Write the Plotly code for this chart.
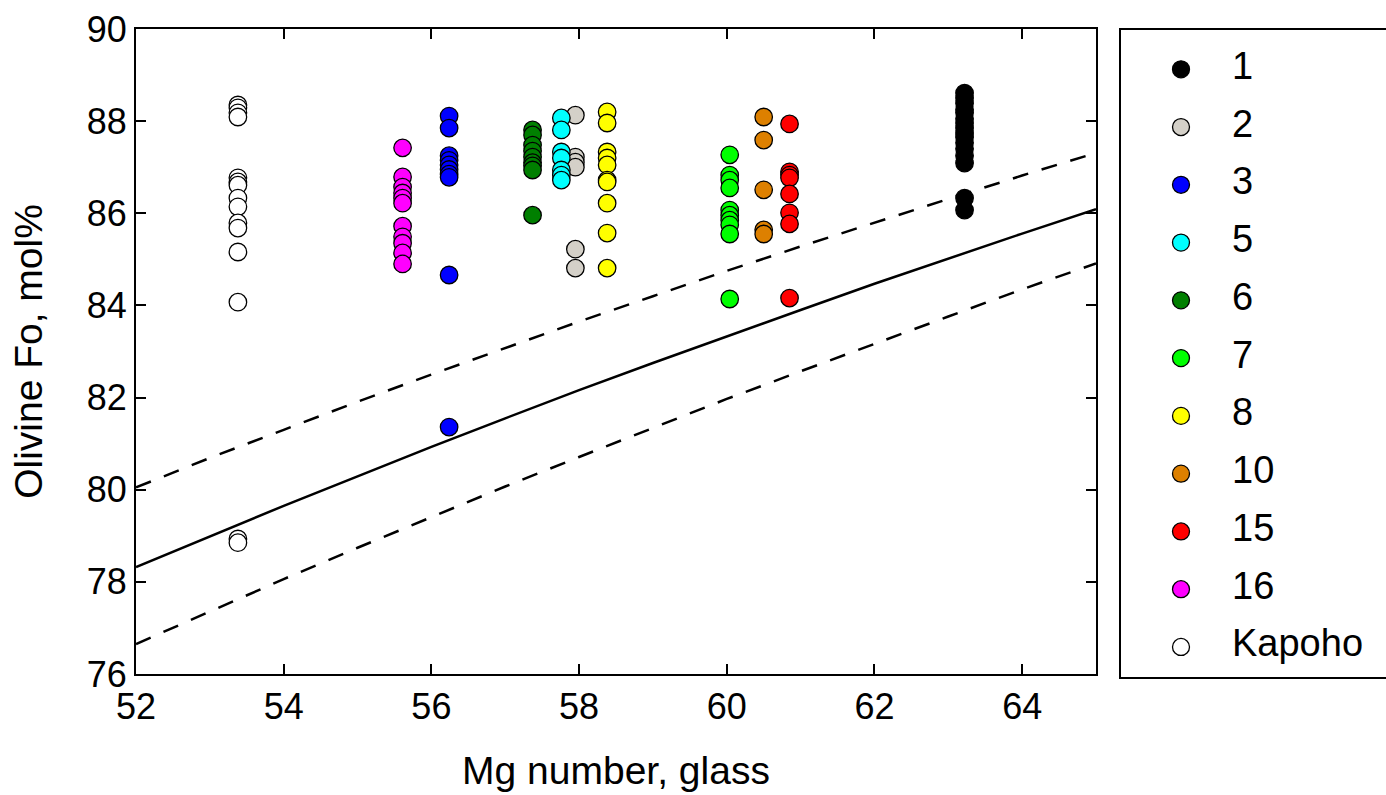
import plotly.graph_objects as go

# ---------------- data ----------------
groups = ["1", "2", "3", "5", "6", "7", "8", "10", "15", "16", "Kapoho"]
colors = ["#000000", "#D4D0C8", "#0000FF", "#00FFFF", "#007F00", "#00FF00",
          "#FFFF00", "#DD8000", "#FF0000", "#FF00FF", "#FFFFFF"]

mg_1 = 63.22
fo_1 = [88.61, 88.50, 88.39, 88.25, 88.18, 88.05, 87.96, 87.85, 87.74, 87.65,
        87.53, 87.40, 87.25, 87.09, 86.33, 86.07]
mg_2 = 57.95
fo_2 = [88.13, 87.22, 87.11, 87.00, 85.22, 84.81]
mg_3 = 56.24
fo_3 = [88.11, 87.85, 87.25, 87.15, 87.05, 86.95, 86.85, 86.78, 84.66, 81.36]
mg_5 = 57.76
fo_5 = [88.07, 87.81, 87.33, 87.20, 86.94, 86.83, 86.72]
mg_6 = 57.37
fo_6 = [87.81, 87.70, 87.48, 87.35, 87.22, 87.10, 87.03, 86.94, 85.96]
mg_7 = 60.04
fo_7 = [87.27, 86.83, 86.72, 86.55, 86.07, 85.96, 85.85, 85.75, 85.55, 84.14]
mg_8 = 58.38
fo_8 = [88.20, 87.96, 87.33, 87.20, 87.05, 86.72, 86.68, 86.22, 85.57, 84.81]
mg_10 = 60.50
fo_10 = [88.09, 87.59, 86.51, 85.64, 85.55]
mg_15 = 60.85
fo_15 = [87.94, 86.90, 86.83, 86.77, 86.42, 86.01, 85.77, 84.16]
mg_16 = 55.61
fo_16 = [87.42, 86.79, 86.57, 86.44, 86.33, 86.22, 85.72, 85.49, 85.35, 85.14, 84.90]
mg_kap = 53.38
fo_kap = [88.35, 88.29, 88.18, 88.09, 86.77, 86.68, 86.61, 86.33, 86.14, 85.79,
          85.68, 85.16, 84.07, 78.93, 78.85]

mg_values = [mg_1, mg_2, mg_3, mg_5, mg_6, mg_7, mg_8, mg_10, mg_15, mg_16, mg_kap]
fo_values = [fo_1, fo_2, fo_3, fo_5, fo_6, fo_7, fo_8, fo_10, fo_15, fo_16, fo_kap]

# equilibrium lines
line_x = [52, 53, 54, 55, 56, 57, 58, 59, 60, 61, 62, 63, 64, 65]
line_mid = [78.32, 78.99, 79.65, 80.29, 80.93, 81.55, 82.16, 82.75, 83.33,
            83.90, 84.47, 85.02, 85.56, 86.09]
line_upper = [80.05, 80.69, 81.30, 81.91, 82.50, 83.08, 83.65, 84.20, 84.75,
              85.28, 85.80, 86.31, 86.82, 87.31]
line_lower = [76.65, 77.36, 78.06, 78.74, 79.41, 80.07, 80.71, 81.34, 81.97,
              82.57, 83.17, 83.76, 84.35, 84.91]

x_ticks = [52, 54, 56, 58, 60, 62, 64]
y_ticks = [76, 78, 80, 82, 84, 86, 88, 90]

FONT = "Liberation Sans, Arial, Helvetica, sans-serif"

fig = go.Figure()

# lines
for ys, dash in ((line_upper, "16px,14px"), (line_lower, "16px,14px"), (line_mid, "solid")):
    fig.add_trace(go.Scatter(x=line_x, y=ys, mode="lines",
                             line=dict(color="black", width=2.5, dash=dash),
                             showlegend=False, hoverinfo="skip"))

# points
for name, col, mg, fo in zip(groups, colors, mg_values, fo_values):
    fig.add_trace(go.Scatter(
        x=[mg] * len(fo), y=fo, mode="markers", name=name,
        marker=dict(size=17.5, color=col, line=dict(color="black", width=1.3)),
        showlegend=False))

# custom legend drawn on a second axis
leg_y = [-i for i in range(len(groups))]
fig.add_trace(go.Scatter(
    x=[60] * len(groups), y=leg_y, mode="markers",
    marker=dict(size=17, color=colors, line=dict(color="black", width=1.3)),
    xaxis="x2", yaxis="y2", showlegend=False, hoverinfo="skip"))
fig.add_trace(go.Scatter(
    x=[111] * len(groups), y=leg_y, mode="text", text=groups,
    textposition="middle right",
    textfont=dict(family=FONT, size=38, color="black"),
    xaxis="x2", yaxis="y2", showlegend=False, hoverinfo="skip"))

axis_common = dict(showgrid=False, zeroline=False, showline=True, linecolor="black",
                   linewidth=2, mirror="ticks", ticks="inside", ticklen=10,
                   tickwidth=1.5, tickcolor="black",
                   tickfont=dict(family=FONT, size=36, color="black"))

fig.update_layout(
    width=1386, height=795,
    margin=dict(l=136, r=0, t=29, b=118),
    paper_bgcolor="white", plot_bgcolor="white",
    font=dict(family=FONT, color="black"),
    xaxis=dict(range=[52, 65], domain=[0, 960 / 1250], tickvals=x_ticks,
               title=dict(text="Mg number, glass", font=dict(size=39), standoff=30),
               **axis_common),
    yaxis=dict(range=[76, 90], domain=[3 / 648, 1], tickvals=y_ticks,
               title=dict(text="Olivine Fo, mol%", font=dict(size=39), standoff=32),
               **axis_common),
    xaxis2=dict(range=[0, 265], domain=[985 / 1250, 1.0], anchor="y2",
                showgrid=False, zeroline=False, showticklabels=False, ticks="",
                showline=True, linecolor="black", linewidth=2, mirror=True),
    yaxis2=dict(range=[-10.52, 0.68], domain=[0, 647 / 648], anchor="x2",
                showgrid=False, zeroline=False, showticklabels=False, ticks="",
                showline=True, linecolor="black", linewidth=2, mirror=False),
)

fig.write_html(
    "out.html",
    config={"displayModeBar": False},
    post_script="document.documentElement.style.overflow='hidden';"
                "document.body.style.overflow='hidden';"
                "document.body.style.margin='0';"
                "document.body.style.padding='0';",
)
